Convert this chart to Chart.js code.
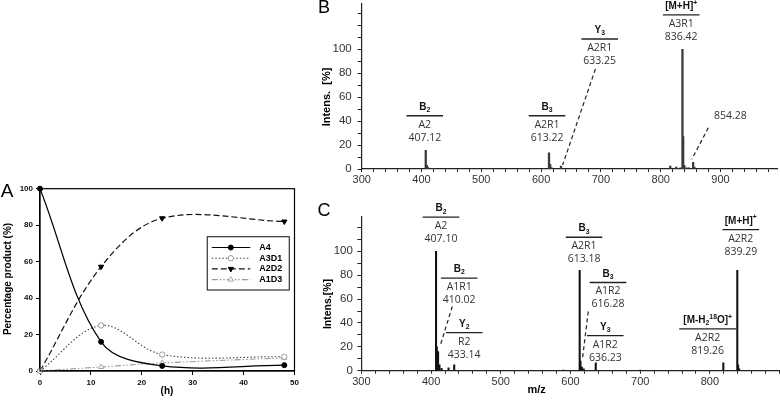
<!DOCTYPE html>
<html>
<head>
<meta charset="utf-8">
<script src="https://cdn.jsdelivr.net/npm/chart.js@4.4.1/dist/chart.umd.min.js"></script>
<style>
  html, body { margin: 0; padding: 0; background: #fff; }
  body { width: 780px; height: 406px; position: relative; overflow: hidden; }
  canvas { position: absolute; }
  #chartA { left: 0; top: 170px; }
  #chartB { left: 290px; top: 0; }
  #chartC { left: 290px; top: 195px; }
</style>
</head>
<body>
<canvas id="chartA" width="300" height="236"></canvas>
<canvas id="chartB" width="490" height="200"></canvas>
<canvas id="chartC" width="490" height="211"></canvas>
<script>
/* ---- data: panel A (percentage product vs time) ---- */
const hours = [0, 12, 24, 48];
const a4   = [100, 16, 2.8, 3.2];
const a3d1 = [0, 25, 9, 7.8];
const a2d2 = [0, 57.2, 83.8, 82];
const a1d3 = [0, 2.2, 4.4, 7.2];
const seriesA = ['A4', 'A3D1', 'A2D2', 'A1D3'];

/* ---- data: panel B spectrum ---- */
const mzB  = [407.12, 409.1, 411, 420, 613.22, 615.2, 617.2, 633.25, 780, 797, 816, 826, 833, 836.42, 837.6, 839.5, 843, 847, 854.28, 856.3, 865, 980];
const intB = [15.5, 3, 1.2, 0.6, 13.5, 4, 1.2, 2.5, 0.4, 0.5, 2.5, 1.5, 1, 100, 27, 3, 1, 1, 5.5, 1.5, 0.5, 0.5];

/* ---- data: panel C spectrum ---- */
const mzC  = [407.10, 408.2, 410.02, 412, 415, 425, 433.14, 590, 613.18, 614.3, 616.28, 619, 636.23, 700, 819.26, 839.29, 840.4, 842];
const intC = [100, 20, 16, 5, 2, 2.5, 5, 0.5, 84, 8, 3, 1.5, 6.5, 0.4, 6.5, 84, 5, 1.5];

const SANS = '"Liberation Sans", Arial, sans-serif';
const OPEN = '"Open Sans", "Liberation Sans", sans-serif';
Chart.defaults.font.family = SANS;

const pts = (xs, ys) => xs.map((v, i) => ({ x: v, y: ys[i] }));

function zeroPad(s) {
  s.paddingTop = 0; s.paddingBottom = 0; s.paddingLeft = 0; s.paddingRight = 0;
}

/* bold text with sub/superscripts, centred on cx */
function richText(ctx, parts, cx, cy, size) {
  const small = size * 0.68;
  const fnt = s => 'bold ' + s + 'px ' + SANS;
  let w = 0;
  parts.forEach(p => { ctx.font = fnt(p[1] ? small : size); w += ctx.measureText(p[0]).width; });
  let x = cx - w / 2;
  ctx.textAlign = 'left';
  parts.forEach(p => {
    ctx.font = fnt(p[1] ? small : size);
    const dy = p[1] === 'sub' ? size * 0.3 : (p[1] === 'sup' ? -size * 0.35 : 0);
    ctx.fillText(p[0], x, cy + dy);
    x += ctx.measureText(p[0]).width;
  });
}

/* plain text items in canvas pixels (titles, panel letters) */
function panelText(items) {
  return {
    id: 'panelText',
    afterDraw(chart) {
      const ctx = chart.ctx;
      items.forEach(it => {
        ctx.save();
        ctx.translate(it.x, it.y);
        if (it.rot) ctx.rotate(it.rot);
        ctx.font = it.font;
        ctx.fillStyle = it.color || '#000';
        ctx.textAlign = 'center';
        ctx.textBaseline = 'middle';
        ctx.fillText(it.t, 0, 0);
        ctx.restore();
      });
    }
  };
}

/* fragment labels anchored in data coordinates */
function msLabels(items, leaders) {
  return {
    id: 'msLabels',
    afterDatasetsDraw(chart) {
      const { ctx, scales: { x, y } } = chart;
      ctx.save();
      ctx.strokeStyle = '#222';
      ctx.lineWidth = 1.2;
      ctx.setLineDash([4, 3]);
      leaders.forEach(l => {
        ctx.beginPath();
        ctx.moveTo(x.getPixelForValue(l[0]), y.getPixelForValue(l[1]));
        ctx.lineTo(x.getPixelForValue(l[2]), y.getPixelForValue(l[3]));
        ctx.stroke();
      });
      ctx.setLineDash([]);
      ctx.textBaseline = 'middle';
      items.forEach(it => {
        const px = x.getPixelForValue(it.mz), py = y.getPixelForValue(it.at);
        ctx.fillStyle = '#333';
        if (it.text) {
          ctx.font = '10.5px ' + OPEN;
          ctx.textAlign = 'center';
          ctx.fillText(it.text, px, py);
          return;
        }
        const hw = it.hw || 18.3;
        ctx.fillStyle = '#111';
        richText(ctx, it.head, px, py - 8.5, 10);
        ctx.lineWidth = 1.3;
        ctx.beginPath();
        ctx.moveTo(px - hw, py);
        ctx.lineTo(px + hw, py);
        ctx.stroke();
        ctx.fillStyle = '#333';
        ctx.font = '10.5px ' + OPEN;
        ctx.textAlign = 'center';
        ctx.fillText(it.lines[0], px, py + 9);
        ctx.fillText(it.lines[1], px, py + 22);
      });
      ctx.restore();
    }
  };
}

/* boxed legend for panel A */
function legendA(box) {
  return {
    id: 'legendA',
    afterDraw(chart) {
      const ctx = chart.ctx;
      ctx.save();
      ctx.fillStyle = '#fff';
      ctx.fillRect(box.x, box.y, box.w, box.h);
      ctx.strokeStyle = '#333';
      ctx.lineWidth = 1.2;
      ctx.strokeRect(box.x, box.y, box.w, box.h);
      chart.data.datasets.forEach((ds, i) => {
        const yy = box.y + 10.8 + i * 10.7;
        ctx.strokeStyle = ds.borderColor;
        ctx.lineWidth = ds.borderWidth;
        ctx.setLineDash(ds.borderDash || []);
        ctx.beginPath();
        ctx.moveTo(box.x + 4.5, yy);
        ctx.lineTo(box.x + 43, yy);
        ctx.stroke();
        ctx.setLineDash([]);
        ctx.fillStyle = ds.pointBackgroundColor;
        ctx.strokeStyle = ds.pointBorderColor;
        ctx.lineWidth = 1;
        Chart.helpers.drawPoint(ctx, {
          pointStyle: ds.pointStyle, rotation: ds.pointRotation || 0,
          radius: ds.pointRadius, borderWidth: 1
        }, box.x + 23.5, yy);
        ctx.fillStyle = '#000';
        ctx.font = 'bold 9px ' + SANS;
        ctx.textAlign = 'left';
        ctx.textBaseline = 'middle';
        ctx.fillText(ds.label, box.x + 52, yy);
      });
      ctx.restore();
    }
  };
}

/* full frame around panel A plot */
const frameA = {
  id: 'frameA',
  afterDraw(chart) {
    const { ctx, chartArea: a } = chart;
    ctx.save();
    ctx.strokeStyle = '#000';
    ctx.lineWidth = 1.2;
    ctx.strokeRect(a.left, a.top, a.right - a.left, a.bottom - a.top);
    ctx.restore();
  }
};

/* ================= Panel A ================= */
const tickFontA = { size: 8, weight: 'bold' };
new Chart(document.getElementById('chartA'), {
  type: 'line',
  data: {
    datasets: [
      { label: seriesA[0], data: pts(hours, a4), borderColor: '#000', borderWidth: 1.2,
        pointStyle: 'circle', pointRadius: 2.5, pointBackgroundColor: '#000', pointBorderColor: '#000' },
      { label: seriesA[1], data: pts(hours, a3d1), borderColor: '#444', borderWidth: 1.1, borderDash: [1.5, 2],
        pointStyle: 'circle', pointRadius: 2.7, pointBackgroundColor: '#fff', pointBorderColor: '#999' },
      { label: seriesA[2], data: pts(hours, a2d2), borderColor: '#111', borderWidth: 1.2, borderDash: [6, 3],
        pointStyle: 'triangle', pointRotation: 180, pointRadius: 3, pointBackgroundColor: '#000', pointBorderColor: '#000' },
      { label: seriesA[3], data: pts(hours, a1d3), borderColor: '#999', borderWidth: 1.1, borderDash: [6, 2, 1.5, 2, 1.5, 2],
        pointStyle: 'triangle', pointRadius: 3, pointBackgroundColor: '#fff', pointBorderColor: '#aaa' }
    ]
  },
  options: {
    responsive: false,
    animation: false,
    datasets: { line: { tension: 0.35, clip: 8, pointBorderWidth: 1 } },
    layout: { padding: { left: 0, top: 18.7, right: 5.5, bottom: 0 } },
    plugins: { legend: { display: false }, tooltip: { enabled: false } },
    scales: {
      x: {
        type: 'linear', min: 0, max: 50,
        afterFit: s => { s.height = 35; zeroPad(s); },
        border: { color: '#000', width: 1.2 },
        grid: { drawOnChartArea: false, tickLength: 4, color: '#000' },
        ticks: { stepSize: 10, padding: 3, color: '#111', font: tickFontA, maxRotation: 0 }
      },
      y: {
        min: 0, max: 100,
        afterFit: s => { s.width = 40; zeroPad(s); },
        border: { color: '#000', width: 1.2 },
        grid: { drawOnChartArea: false, tickLength: 4, color: '#000' },
        ticks: { stepSize: 20, padding: 3, color: '#111', font: tickFontA }
      }
    }
  },
  plugins: [
    frameA,
    legendA({ x: 207.3, y: 66.7, w: 82, h: 53.3 }),
    panelText([
      { t: 'A', x: 7, y: 22, font: '19px ' + SANS },
      { t: 'Percentage product (%)', x: 8, y: 109, rot: -Math.PI / 2, font: 'bold 10px ' + SANS },
      { t: '(h)', x: 167, y: 221.7, font: 'bold 10px ' + SANS }
    ])
  ]
});

/* ================= spectra helpers ================= */
function msX(min, max, lastLabel, h, pad) {
  return {
    type: 'linear', min, max, bounds: 'data', offset: false,
    afterFit: s => { s.height = h; zeroPad(s); },
    border: { color: '#222', width: 1.2 },
    grid: { drawOnChartArea: false, offset: false, tickLength: 3,
            tickColor: c => (c.tick && c.tick.value % 20 === 0) ? '#222' : 'rgba(0,0,0,0)' },
    ticks: { stepSize: 20, autoSkip: false, includeBounds: false, maxRotation: 0, padding: pad,
             color: '#333', font: { size: 11 },
             callback: v => (v % 100 === 0 && v <= lastLabel) ? v : '' }
  };
}
function msY(max, w, pad) {
  return {
    min: 0, max, bounds: 'data',
    afterFit: s => { s.width = w; zeroPad(s); },
    border: { color: '#222', width: 1.2 },
    grid: { drawOnChartArea: false, tickLength: 4,
            tickColor: c => (c.tick && c.tick.value % 10 === 0) ? '#222' : 'rgba(0,0,0,0)' },
    ticks: { stepSize: 10, autoSkip: false, includeBounds: false, padding: pad,
             color: '#333', font: { size: 11.5 },
             callback: v => (v % 20 === 0 && v <= 100) ? v : '' }
  };
}

const B2 = [['B', ''], ['2', 'sub']];
const B3 = [['B', ''], ['3', 'sub']];
const Y2 = [['Y', ''], ['2', 'sub']];
const Y3 = [['Y', ''], ['3', 'sub']];
const MH = [['[M+H]', ''], ['+', 'sup']];
const MH18 = [['[M-H', ''], ['2', 'sub'], ['18', 'sup'], ['O]', ''], ['+', 'sup']];

/* ================= Panel B ================= */
new Chart(document.getElementById('chartB'), {
  type: 'bar',
  data: { datasets: [{ data: pts(mzB, intB), backgroundColor: '#3a3a3a', borderWidth: 0, barThickness: 1.6 }] },
  options: {
    responsive: false,
    animation: false,
    layout: { padding: { left: 0, top: 3.8, right: 2.7, bottom: 0 } },
    plugins: { legend: { display: false }, tooltip: { enabled: false } },
    scales: { x: msX(300, 995, 900, 31, 1), y: msY(138, 71.7, 6) }
  },
  plugins: [
    msLabels([
      { mz: 405.5, at: 44.5, head: B2, lines: ['A2', '407.12'] },
      { mz: 609.9, at: 44.5, head: B3, lines: ['A2R1', '613.22'] },
      { mz: 698, at: 108.6, head: Y3, lines: ['A2R1', '633.25'] },
      { mz: 834.3, at: 128.7, head: MH, lines: ['A3R1', '836.42'] },
      { mz: 916.4, at: 44.3, text: '854.28' }
    ], [
      [690.8, 83.5, 636, 3.3],
      [879.6, 34.5, 852.1, 8.1]
    ]),
    panelText([
      { t: 'B', x: 34, y: 8.5, font: '18px ' + SANS },
      { t: 'Intens.  [%]', x: 36.7, y: 97, rot: -Math.PI / 2, font: 'bold 11px ' + SANS }
    ])
  ]
});

/* ================= Panel C ================= */
new Chart(document.getElementById('chartC'), {
  type: 'bar',
  data: { datasets: [{ data: pts(mzC, intC), backgroundColor: '#111', borderWidth: 0, barThickness: 1.4 }] },
  options: {
    responsive: false,
    animation: false,
    layout: { padding: { left: 0, top: 21.7, right: 0.4, bottom: 0 } },
    plugins: { legend: { display: false }, tooltip: { enabled: false } },
    scales: { x: msX(300, 900, 800, 35.3, 2), y: msY(129, 71.4, 4.5) }
  },
  plugins: [
    msLabels([
      { mz: 414.2, at: 128.6, head: B2, lines: ['A2', '407.10'] },
      { mz: 440.3, at: 77.6, head: B2, lines: ['A1R1', '410.02'] },
      { mz: 447.5, at: 31.9, head: Y2, lines: ['R2', '433.14'] },
      { mz: 619.4, at: 111.8, head: B3, lines: ['A2R1', '613.18'] },
      { mz: 653.8, at: 73.9, head: B3, lines: ['A1R2', '616.28'] },
      { mz: 649.9, at: 29.4, head: Y3, lines: ['A1R2', '636.23'] },
      { mz: 796.8, at: 35, head: MH18, lines: ['A2R2', '819.26'], hw: 28.5 },
      { mz: 844.3, at: 118.2, head: MH, lines: ['A2R2', '839.29'] }
    ], [
      [430.4, 53.8, 413.8, 22.4],
      [625.5, 49.6, 616.9, 9]
    ]),
    panelText([
      { t: 'C', x: 34, y: 16, font: '18px ' + SANS },
      { t: 'Intens.[%]', x: 38, y: 109, rot: -Math.PI / 2, font: 'bold 10.5px ' + SANS },
      { t: 'm/z', x: 246.7, y: 195, font: 'bold 11px ' + SANS }
    ])
  ]
});
</script>
</body>
</html>
